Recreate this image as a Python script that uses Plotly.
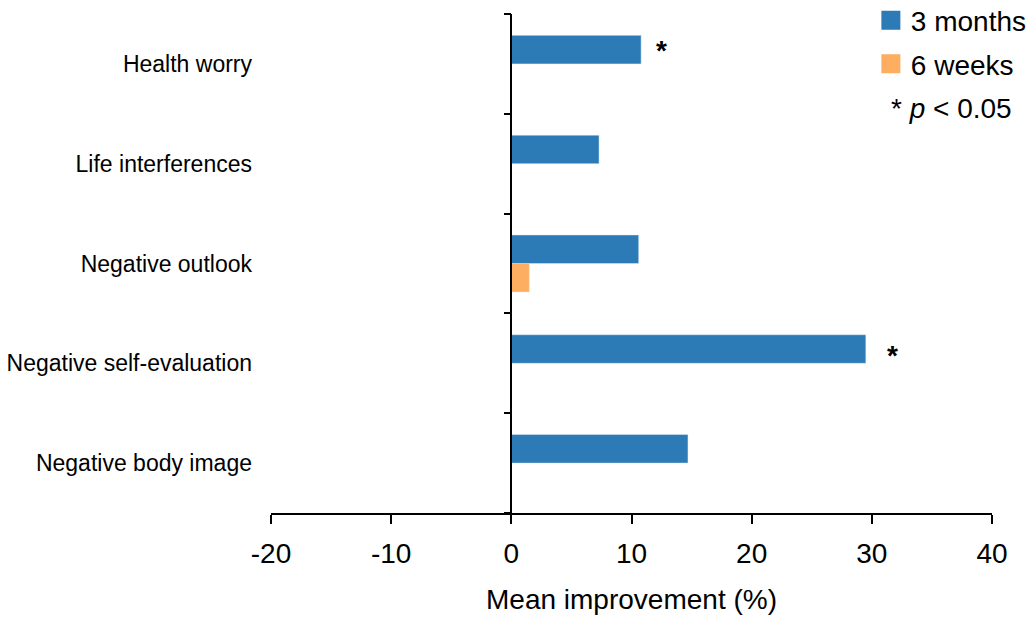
import plotly.graph_objects as go

# Outcome domains, listed bottom to top as drawn on the category axis
domains = [
    "Negative body image",
    "Negative self-evaluation",
    "Negative outlook",
    "Life interferences",
    "Health worry",
]
months3 = [14.7, 29.5, 10.6, 7.3, 10.8]
weeks6 = [None, None, 1.5, None, None]

# Significance markers: domain, value of the bar they follow, horizontal/vertical nudge in px
sig_domains = ["Health worry", "Negative self-evaluation"]
sig_values = [10.8, 29.5]
sig_xshift = [20, 27]
sig_yshift = [13, 8]

x_ticks = [-20, -10, 0, 10, 20, 30, 40]

BLUE = "#2C7BB6"
ORANGE = "#FDAE61"
FONT = "Liberation Sans, Arial, sans-serif"

fig = go.Figure()

# 6-week trace first so that the 3-month bar sits above it within each group
fig.add_trace(go.Bar(y=domains, x=weeks6, orientation="h", marker_color=ORANGE,
                     name="6 weeks", showlegend=False))
fig.add_trace(go.Bar(y=domains, x=months3, orientation="h", marker_color=BLUE,
                     name="3 months", showlegend=False))

# Legend entries with larger square swatches (outline in the fill colour enlarges them)
fig.add_trace(go.Scatter(x=[None], y=[None], mode="markers", name="3 months",
                         marker=dict(symbol="square", size=16, color=BLUE,
                                     line=dict(color=BLUE, width=3)),
                         legendgroup="a", legendrank=1))
fig.add_trace(go.Scatter(x=[None], y=[None], mode="markers", name="6 weeks",
                         marker=dict(symbol="square", size=16, color=ORANGE,
                                     line=dict(color=ORANGE, width=3)),
                         legendgroup="b", legendrank=2))

# Invisible trace that carries the category-boundary axis drawn at x = 0
fig.add_trace(go.Scatter(x=[None], y=[None], yaxis="y2", showlegend=False,
                         hoverinfo="skip"))

for d, v, dx, dy in zip(sig_domains, sig_values, sig_xshift, sig_yshift):
    fig.add_annotation(x=v, y=d, xref="x", yref="y", text="<b>*</b>", showarrow=False,
                       xanchor="center", yanchor="middle", xshift=dx, yshift=dy,
                       font=dict(size=28, color="black", family=FONT))

fig.add_annotation(x=0.857, y=0.811, xref="paper", yref="paper",
                   text="* <i>p</i> &lt; 0.05", showarrow=False,
                   xanchor="left", yanchor="middle",
                   font=dict(size=28, color="black", family=FONT))

n = len(domains)
fig.update_layout(
    width=1030, height=623,
    margin=dict(l=271, r=38, t=14, b=110, autoexpand=False),
    paper_bgcolor="white", plot_bgcolor="white",
    barmode="group", bargap=0.428, bargroupgap=0,
    font=dict(family=FONT, color="black"),
    xaxis=dict(
        range=[-20, 40], tickvals=x_ticks, ticktext=[str(t) for t in x_ticks],
        showline=True, linecolor="black", linewidth=1.5,
        ticks="outside", ticklen=9, tickwidth=1.5, tickcolor="black",
        showgrid=False, zeroline=False,
        tickfont=dict(size=28), ticklabelstandoff=6,
        title=dict(text="Mean improvement (%)", font=dict(size=28), standoff=21),
    ),
    yaxis=dict(
        range=[-0.5, n - 0.5], showline=False, showgrid=False, zeroline=False,
        ticks="", tickfont=dict(size=23), ticklabelstandoff=18,
    ),
    yaxis2=dict(
        overlaying="y", anchor="free", position=1 / 3, side="left",
        range=[-0.5, n - 0.5], tickvals=[i - 0.5 for i in range(n + 1)],
        showticklabels=False, showline=True, linecolor="black", linewidth=1.5,
        ticks="outside", ticklen=7, tickwidth=1.5, tickcolor="black",
        showgrid=False, zeroline=False,
    ),
    legend=dict(
        x=0.832, y=1.037, xanchor="left", yanchor="top",
        font=dict(size=28), bgcolor="rgba(0,0,0,0)",
        traceorder="grouped", tracegroupgap=4,
    ),
    showlegend=True,
)

fig.write_html("out.html")
